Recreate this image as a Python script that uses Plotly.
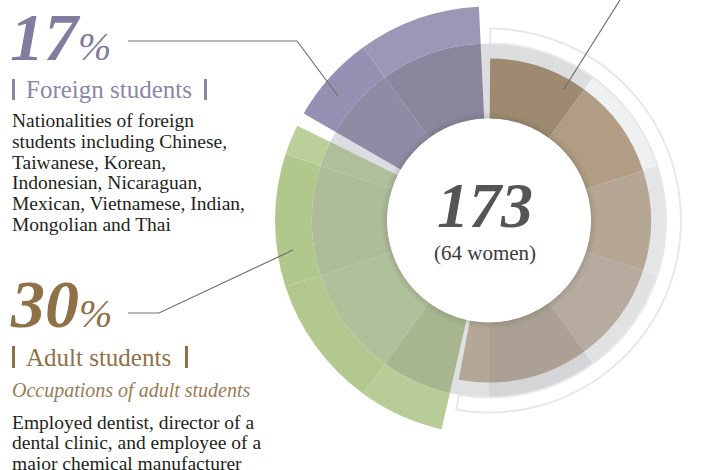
import plotly.graph_objects as go

# ---- data ----
groups = ["Regular students", "Adult students", "Foreign students"]
shares = [53, 30, 17]           # percent
total_students = 173
women = 64
pct_labels = ["17%", "30%"]

foreign_lines = ["Nationalities of foreign", "students including Chinese,", "Taiwanese, Korean,",
                 "Indonesian, Nicaraguan,", "Mexican, Vietnamese, Indian,", "Mongolian and Thai"]
adult_lines = ["Employed dentist, director of a", "dental clinic, and employee of a",
               "major chemical manufacturer"]

# ---- style ----
W, H = 722, 470
CX, CY, RPX = 489, 220.5, 220
R_IN, R_BAND, R_RING = 102, 177, 192
seg_outer = [162, 214, 214]
gap_start = [0.4, 2.0, 1.2]
gap_end = [0.0, 2.5, 2.7]
band_cols = ["#dcdddf", "#eff0f2", "#e4e5e7", "#e1e2e4", "#d4d5d7",
             "#dfe0e2", "#dcdde0", "#dcdde0", "#dcdde0", "#dcdde0"]
inner_cols = [
    {0: "#9d8a70", 1: "#b09d83", 2: "#b5a794", 3: "#b6ab9e", 4: "#aba093", 5: "#b4a797"},
    {5: "#a8b690", 6: "#b0c09a", 7: "#aebc99", 8: "#b1be9b"},
    {8: "#908ba4", 9: "#8a869d"},
]
outer_cols = [{}, {5: "#b7cc96", 6: "#b2c88e", 7: "#b1c88c", 8: "#bacf9a"},
              {8: "#9890b2", 9: "#9d96b6"}]

fig = go.Figure()

# background band, 10 sectors
fig.add_trace(go.Barpolar(theta=[18 + 36 * k for k in range(10)], r=[R_BAND - R_IN] * 10,
                          base=[R_IN] * 10, width=[36] * 10,
                          marker=dict(color=band_cols, line=dict(width=0)), hoverinfo="skip"))

# segments
cum = 0
starts, ends = [], []
for i, s in enumerate(shares):
    a0 = cum / 100 * 360 + gap_start[i]
    a1 = (cum + s) / 100 * 360 - gap_end[i]
    starts.append(a0); ends.append(a1)
    cum += s
    for layer in ("inner", "outer"):
        if layer == "outer" and seg_outer[i] <= R_BAND:
            continue
        b = R_IN if layer == "inner" else R_BAND
        top = (min(seg_outer[i], R_BAND) if layer == "inner" else seg_outer[i])
        cols = inner_cols[i] if layer == "inner" else outer_cols[i]
        th, wd, cc = [], [], []
        for k in range(10):
            lo, hi = max(a0, 36 * k), min(a1, 36 * (k + 1))
            if hi > lo:
                th.append((lo + hi) / 2); wd.append(hi - lo); cc.append(cols[k])
        fig.add_trace(go.Barpolar(theta=th, width=wd, base=[b] * len(th), r=[top - b] * len(th),
                                  marker=dict(color=cc, line=dict(width=0)), hoverinfo="skip"))

# soft shadow around the inner white disc
for dr, a in [(6, 0.03), (4, 0.04), (2, 0.05)]:
    fig.add_trace(go.Barpolar(theta=[180], width=[360], base=[R_IN], r=[dr],
                              marker=dict(color="rgba(60,50,40,%s)" % a, line=dict(width=0)),
                              hoverinfo="skip"))

# thin outline ring around first segment
fig.add_trace(go.Barpolar(theta=[(starts[0] + ends[0] - 1) / 2], width=[ends[0] - 1 - starts[0]],
                          base=[R_BAND], r=[R_RING - R_BAND],
                          marker=dict(color="rgba(0,0,0,0)", line=dict(color="#e8e8e9", width=2)),
                          hoverinfo="skip"))

dx0, dx1 = (CX - RPX) / W, (CX + RPX) / W
dy0, dy1 = (H - CY - RPX) / H, (H - CY + RPX) / H

fig.update_layout(
    width=W, height=H, margin=dict(l=0, r=0, t=0, b=0),
    paper_bgcolor="white", plot_bgcolor="white", showlegend=False,
    polar=dict(domain=dict(x=[dx0, dx1], y=[dy0, dy1]), bgcolor="rgba(0,0,0,0)", barmode="overlay",
               radialaxis=dict(range=[0, RPX], visible=False, showgrid=False),
               angularaxis=dict(visible=False, rotation=90, direction="clockwise", showgrid=False)),
)

def px(x): return x / W
def py(y): return 1 - y / H

SERIF = "Liberation Serif"
PURPLE = "#827da0"
BROWN = "#8f7148"
TXT = "#231f20"
annots = []
def txt(x, y, s, size, color, anchor="left"):
    annots.append(dict(x=px(x), y=py(y), xref="paper", yref="paper", text=s, showarrow=False,
                       xanchor=anchor, yanchor="middle", font=dict(family=SERIF, size=size, color=color)))

pct_html = lambda p: "<b><i>%s</i></b><span style='font-size:40px'><i>%%</i></span>" % p[:-1]
txt(8, 37, pct_html(pct_labels[0]), 68, PURPLE)
txt(24, 90, groups[2], 25, "#8a86a8")
for j, l in enumerate(foreign_lines):
    txt(10, 121 + j * 20.6, l, 19.5, TXT)

txt(8, 304, pct_html(pct_labels[1]), 68, BROWN)
txt(24, 357, groups[1], 25, BROWN)
txt(10, 390, "<i>Occupations of adult students</i>", 20, "#9a7b55")
for j, l in enumerate(adult_lines):
    txt(10, 422 + j * 20.6, l, 19.5, TXT)

txt(CX - 4, 205, "<b><i>%d</i></b>" % total_students, 64, "#555557", "center")
txt(CX - 4, 253, "(%d women)" % women, 21, "#3a3a3a", "center")
fig.update_layout(annotations=annots)

shapes = []
def line(pts, color="#6e6e6e"):
    path = "M " + " L ".join("%f,%f" % (px(x), py(y)) for x, y in pts)
    shapes.append(dict(type="path", path=path, xref="paper", yref="paper",
                       line=dict(color=color, width=1.2)))
def bar(x0, x1, y0, y1, color):
    shapes.append(dict(type="rect", x0=px(x0), x1=px(x1), y0=py(y0), y1=py(y1), xref="paper",
                       yref="paper", fillcolor=color, line=dict(width=0)))

line([(128, 41), (297, 41), (338, 96)])
line([(128, 313), (159, 313), (293, 250)])
line([(564, 89), (620, 0)])
bar(12, 15, 79, 100, "#8a86a8"); bar(204, 207, 79, 100, "#8a86a8")
bar(12, 15, 346, 368, BROWN); bar(185, 188, 346, 368, BROWN)
fig.update_layout(shapes=shapes)

fig.write_html("out.html", config={"displayModeBar": False},
               post_script="document.body.style.margin='0';")
